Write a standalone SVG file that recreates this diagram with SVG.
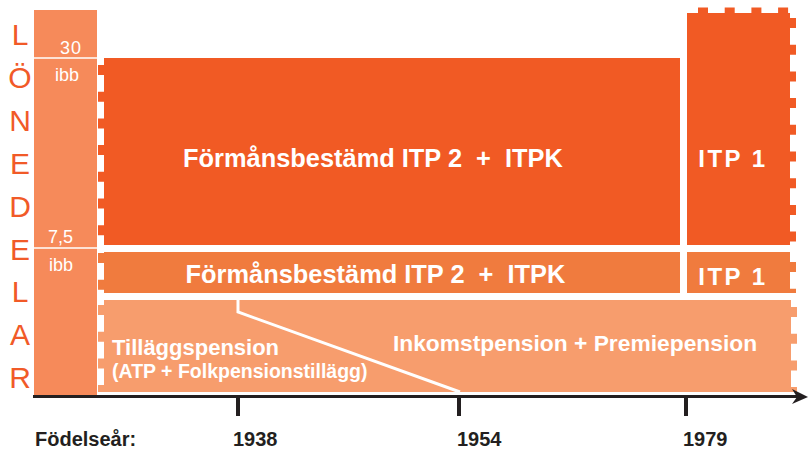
<svg xmlns="http://www.w3.org/2000/svg" width="808" height="450" viewBox="0 0 808 450">
<style>
.dk{fill:#F15A24}
.md{fill:#F07B3E}
.lt{fill:#F79D6D}
.edk{stroke:#F15A24;stroke-width:6;fill:none;stroke-dasharray:10 16.7}
.emd{stroke:#F07B3E;stroke-width:6;fill:none;stroke-dasharray:10 16.7}
.elt{stroke:#F79D6D;stroke-width:6;fill:none;stroke-dasharray:10 16.7}
.let{font-family:"Liberation Sans",Arial,sans-serif;font-size:30px;fill:#F15A28;text-anchor:middle}
.sm{font-family:"Liberation Sans",Arial,sans-serif;font-size:18px;fill:#fff}
.wb{font-family:"Liberation Sans",Arial,sans-serif;font-weight:bold;fill:#fff;white-space:pre}
.ax{font-family:"Liberation Sans",Arial,sans-serif;font-weight:bold;font-size:20px;fill:#231F20}
</style>
<g id="leftcol">
<rect x="34" y="10" width="63" height="385" fill="#F68A5A"/>
<line x1="34" y1="58" x2="97" y2="58" stroke="#fff" stroke-width="1.5"/>
<line x1="34" y1="248" x2="97" y2="248" stroke="#fff" stroke-width="1.5"/>
<text class="sm" x="60" y="54" letter-spacing="1">30</text>
<text class="sm" x="55" y="81">ibb</text>
<text class="sm" x="48" y="243">7,5</text>
<text class="sm" x="49" y="271">ibb</text>
</g>
<g id="lonedelar">
<text class="let" x="20" y="45">L</text>
<text class="let" x="20" y="88">Ö</text>
<text class="let" x="20" y="131">N</text>
<text class="let" x="20" y="174">E</text>
<text class="let" x="20" y="217">D</text>
<text class="let" x="20" y="260">E</text>
<text class="let" x="20" y="302">L</text>
<text class="let" x="20" y="345">A</text>
<text class="let" x="20" y="388">R</text>
</g>
<g id="itp2-high">
<rect class="dk" x="104" y="58" width="576" height="187"/>
<path class="edk" d="M101 65 V245"/>
<text class="wb" x="373" y="167" font-size="25.4" text-anchor="middle">Förmånsbestämd ITP 2  +  ITPK</text>
</g>
<g id="itp1-high">
<rect class="dk" x="687" y="13" width="103" height="232"/>
<path class="edk" d="M698 10.5 H790"/>
<path class="edk" d="M793 18 V245"/>
<text class="wb" x="733" y="167" font-size="24" text-anchor="middle" letter-spacing="2.5">ITP 1</text>
</g>
<g id="itp2-low">
<rect class="md" x="104" y="252" width="576" height="41"/>
<path class="emd" d="M101 253 V293"/>
<text class="wb" x="375.5" y="283" font-size="25.4" text-anchor="middle">Förmånsbestämd ITP 2  +  ITPK</text>
</g>
<g id="itp1-low">
<rect class="md" x="687" y="252" width="103" height="41"/>
<path class="emd" d="M793 262 V293"/>
<text class="wb" x="733" y="285" font-size="24" text-anchor="middle" letter-spacing="2.5">ITP 1</text>
</g>
<g id="allman">
<rect class="lt" x="104" y="300" width="687" height="92"/>
<path class="elt" d="M101 305 V392"/>
<path class="elt" d="M794 307 V392"/>
<text class="wb" x="112" y="355" font-size="22">Tilläggspension</text>
<text class="wb" x="112" y="378" font-size="19.5">(ATP + Folkpensionstillägg)</text>
<text class="wb" x="575" y="351" font-size="22.8" text-anchor="middle">Inkomstpension + Premiepension</text>
</g>
<g id="connectors">
<polyline points="238,300 238,312 460,392" fill="none" stroke="#fff" stroke-width="3"/>
<line x1="33" y1="396.5" x2="798" y2="396.5" stroke="#231F20" stroke-width="3"/>
<path d="M792 389 L808 397 L792 404 L797 397 Z" fill="#231F20"/>
<rect x="236" y="396" width="4" height="20" fill="#231F20"/>
<rect x="457" y="396" width="4" height="20" fill="#231F20"/>
<rect x="684" y="396" width="4" height="20" fill="#231F20"/>
</g>
<g id="axis-labels">
<text class="ax" x="35" y="446">Födelseår:</text>
<text class="ax" x="233" y="446">1938</text>
<text class="ax" x="457" y="446">1954</text>
<text class="ax" x="683" y="446">1979</text>
</g>
</svg>
